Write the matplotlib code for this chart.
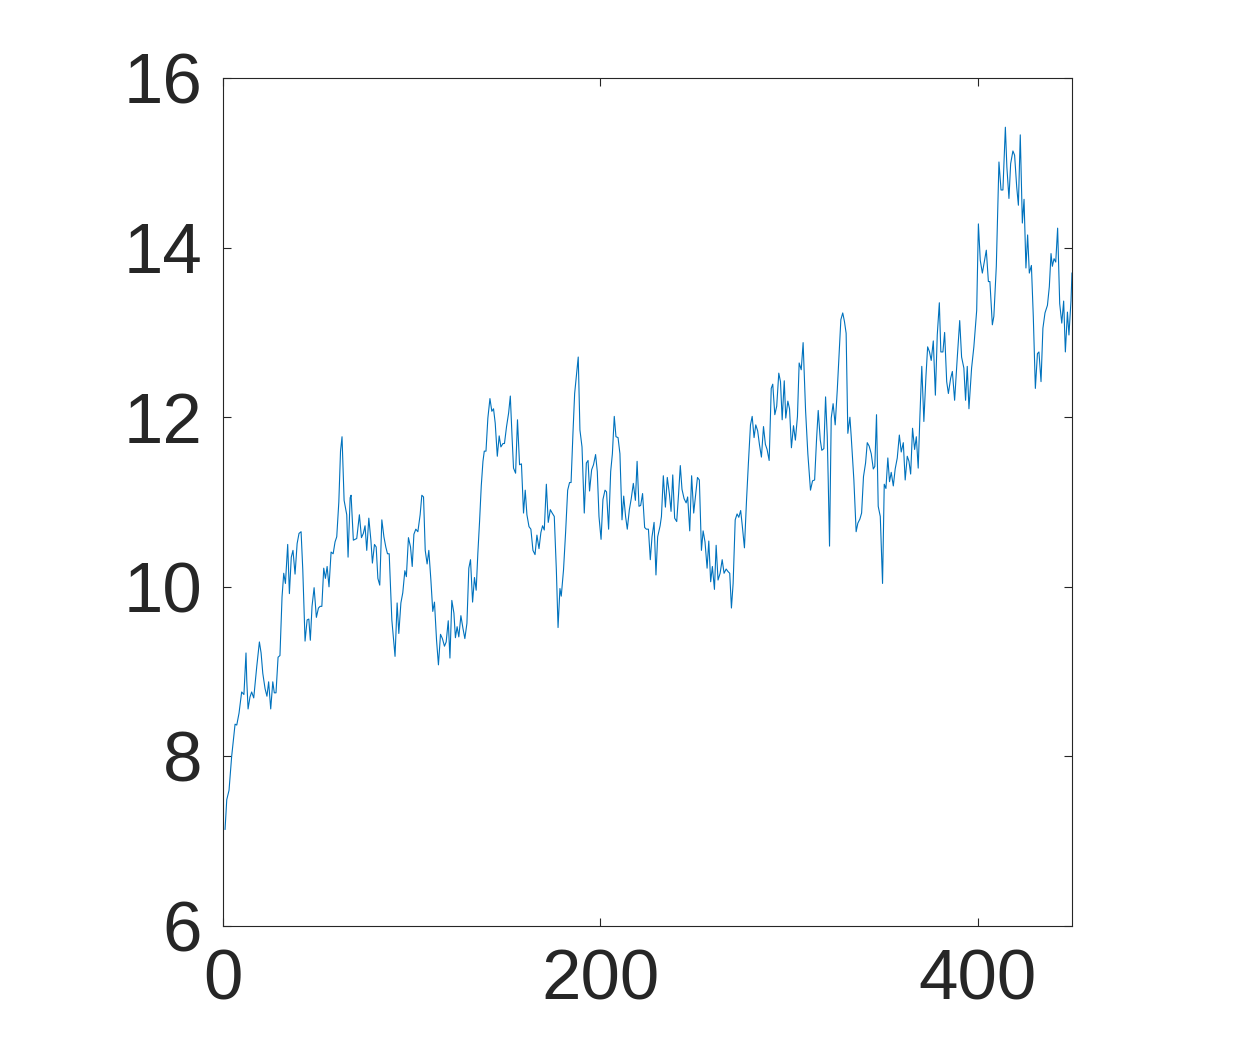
import matplotlib
matplotlib.use("Agg")
import matplotlib.pyplot as plt

x_vals = [
    1.1, 2.0, 3.2, 4.6, 6.4, 7.3, 8.5, 9.9, 11.1, 12.2, 12.6, 13.3, 14.3, 15.2, 16.3, 17.9,
    19.3, 20.2, 21.1, 22.3, 23.3, 24.2, 25.3, 26.4, 27.2, 28.1, 29.2, 30.2, 31.3, 32.2, 33.1,
    34.3, 35.2, 36.2, 37.1, 38.2, 39.3, 40.3, 41.4, 42.3, 43.5, 44.6, 45.5, 46.3, 47.2, 48.3,
    49.5, 50.6, 51.5, 52.4, 53.4, 54.3, 55.2, 56.2, 57.3, 58.4, 59.4, 60.3, 61.4, 62.3, 63.1,
    64.2, 65.6, 66.3, 67.4, 67.9, 69.1, 70.9, 72.3, 73.4, 74.4, 75.3, 76.2, 77.3,
    78.4, 79.2, 80.3, 81.2, 82.1, 83.1, 84.2, 85.3, 86.3, 87.2, 88.1, 89.5, 91.2, 92.3, 93.2,
    94.3, 95.3, 96.4, 97.2, 98.3, 99.4, 100.3, 101.2, 102.2, 103.3, 104.5, 105.4, 106.3,
    107.2, 108.2, 109.1, 110.2, 111.2, 112.1, 113.2, 114.2, 115.3, 116.3, 117.4, 118.3,
    119.4, 120.3, 121.3, 122.4, 123.2, 124.1, 125.0, 126.1, 127.2, 128.2, 129.3, 130.3,
    131.2, 132.3, 133.3, 134.2, 135.1, 136.0, 136.9, 137.8, 138.5, 139.4, 140.4, 141.5,
    142.5, 143.4, 144.3, 145.4, 146.4, 147.3, 148.4, 149.2, 150.3, 151.4, 152.3, 153.2,
    154.0, 155.1, 156.1, 157.2, 158.2, 159.3, 160.2, 161.1, 162.2, 163.2, 164.3, 165.4,
    166.4, 167.5, 168.5, 169.4, 170.3, 171.4, 172.4, 173.5, 174.5, 175.6, 176.7, 177.6,
    178.6, 179.3, 180.5, 181.6, 182.7, 183.7, 184.5, 185.5, 186.4, 187.3, 188.3, 189.2,
    190.3, 191.5, 192.6, 193.5, 194.3, 195.4, 196.4, 197.5, 198.4, 199.3, 200.4, 201.4,
    202.5, 203.3, 204.4, 205.5, 206.4, 207.4, 208.3, 209.4, 210.4, 211.5, 212.4, 213.4,
    214.3, 215.4, 216.4, 217.5, 218.6, 219.5, 220.5, 221.4, 222.4, 223.5, 224.4, 225.5,
    226.5, 227.4, 228.5, 229.5, 230.4, 231.7, 232.4, 233.4, 234.5, 235.5, 236.6, 237.5,
    238.4, 239.4, 240.5, 241.5, 242.4, 243.3, 244.4, 245.5, 246.3, 247.4, 248.4, 249.5,
    250.4, 251.5, 252.5, 253.6, 254.5, 255.5, 256.6, 257.5, 258.5, 259.4, 260.5, 261.4,
    262.4, 263.5, 264.6, 265.6, 266.7, 267.7, 268.6, 269.5, 270.4, 271.5, 272.5, 273.4,
    274.4, 275.3, 276.4, 277.5, 278.5, 279.6, 280.5, 281.5, 282.4, 283.4, 284.4, 285.4,
    286.5, 287.5, 288.4, 289.5, 290.6, 291.4, 292.5, 293.5, 294.6, 295.5, 296.4, 297.5,
    298.3, 299.4, 300.3, 301.3, 302.4, 303.4, 304.5, 305.4, 306.5, 307.5, 308.8, 310.0,
    311.4, 312.5, 313.6, 314.6, 315.5, 316.6, 317.4, 318.5, 319.4, 320.3, 320.8, 321.5,
    322.4, 323.4, 324.5, 325.6, 326.6, 327.5, 328.5, 329.4, 330.3, 331.2, 332.3, 333.0,
    334.4, 335.6, 336.5, 337.6, 338.5, 339.5, 340.6, 341.5, 342.5, 343.6, 344.7, 345.5,
    346.4, 347.3, 348.4, 349.6, 350.5, 351.4, 352.4, 353.3, 354.2, 355.3, 356.3, 357.4,
    358.5, 359.5, 360.6, 361.6, 362.7, 363.6, 364.5, 365.5, 366.6, 367.5, 368.5, 369.4,
    370.4, 371.5, 372.6, 373.5, 374.5, 375.4, 376.5, 377.6, 378.6, 379.7, 380.5, 381.6,
    382.5, 383.6, 384.5, 385.7, 386.6, 387.8, 389.2, 390.5, 391.5, 392.7, 393.6, 394.5,
    395.4, 396.8, 398.0, 399.5, 400.4, 401.4, 402.5, 403.5, 404.6, 405.7, 406.5, 407.8,
    408.6, 409.9, 411.3, 412.4, 413.4, 414.7, 415.5, 416.6, 417.5, 418.7, 419.6, 420.7,
    421.6, 422.6, 423.7, 424.6, 425.6, 426.5, 427.4, 428.5, 429.5, 430.6, 431.7, 432.5,
    433.6, 434.6, 435.7, 437.0, 438.0, 438.9, 439.6, 440.5, 441.4, 442.4, 443.5, 444.6,
    445.6, 446.5, 447.6, 448.4, 449.5, 450.0,
]

y_vals = [
    7.14, 7.49, 7.60, 8.00, 8.38, 8.37, 8.51, 8.76, 8.73, 9.22, 8.90, 8.56, 8.70, 8.76, 8.69, 9.06,
    9.35, 9.22, 8.98, 8.80, 8.71, 8.88, 8.56, 8.88, 8.75, 8.75, 9.17, 9.19, 9.88, 10.16, 10.04,
    10.50, 9.92, 10.35, 10.43, 10.15, 10.51, 10.63, 10.65, 10.20, 9.36, 9.61, 9.62, 9.37, 9.77, 9.99,
    9.64, 9.75, 9.77, 9.77, 10.22, 10.10, 10.24, 10.00, 10.41, 10.39, 10.53, 10.59, 11.00, 11.60, 11.77,
    11.02, 10.85, 10.35, 11.05, 11.08, 10.55, 10.57, 10.85, 10.58, 10.63, 10.72, 10.43, 10.81,
    10.55, 10.28, 10.50, 10.47, 10.10, 10.02, 10.79, 10.59, 10.47, 10.39, 10.39, 9.61, 9.18, 9.81, 9.45,
    9.81, 9.93, 10.19, 10.12, 10.58, 10.47, 10.24, 10.62, 10.68, 10.65, 10.85, 11.08, 11.06,
    10.43, 10.27, 10.43, 10.08, 9.71, 9.82, 9.37, 9.08, 9.44, 9.39, 9.30, 9.35,
    9.60, 9.16, 9.84, 9.69, 9.40, 9.53, 9.41, 9.66, 9.51, 9.39, 9.57, 10.22,
    10.32, 9.82, 10.11, 9.96, 10.40, 10.77, 11.19, 11.48, 11.60, 11.60, 11.99, 12.22,
    12.07, 12.10, 11.93, 11.54, 11.78, 11.65, 11.69, 11.69, 11.89, 12.05, 12.25, 11.78,
    11.40, 11.34, 11.97, 11.44, 11.45, 10.87, 11.14, 10.85, 10.71, 10.68, 10.43, 10.38,
    10.61, 10.45, 10.64, 10.72, 10.67, 11.21, 10.76, 10.91, 10.87, 10.83, 10.20, 9.52,
    9.98, 9.89, 10.20, 10.64, 11.14, 11.23, 11.23, 11.81, 12.28, 12.48, 12.71, 11.85,
    11.65, 10.87, 11.46, 11.49, 11.13, 11.38, 11.44, 11.56, 11.36, 10.83, 10.56, 11.03,
    11.14, 11.12, 10.68, 11.36, 11.57, 12.01, 11.77, 11.76, 11.57, 10.79, 11.07, 10.83,
    10.68, 10.91, 11.04, 11.22, 11.02, 11.48, 10.95, 10.96, 11.10, 10.70, 10.68, 10.68,
    10.32, 10.59, 10.76, 10.14, 10.59, 10.72, 10.83, 11.31, 10.94, 11.29, 11.10, 10.89,
    11.32, 10.81, 10.77, 11.10, 11.43, 11.15, 11.04, 10.99, 11.06, 10.66, 11.31, 10.87,
    11.06, 11.29, 11.26, 10.43, 10.66, 10.53, 10.22, 10.54, 10.06, 10.24, 9.97, 10.49,
    10.08, 10.16, 10.32, 10.16, 10.21, 10.18, 10.16, 9.75, 10.04, 10.79, 10.86, 10.82,
    10.90, 10.71, 10.46, 11.02, 11.46, 11.91, 12.01, 11.76, 11.91, 11.84, 11.67, 11.53,
    11.89, 11.68, 11.62, 11.49, 12.34, 12.39, 12.03, 12.13, 12.52, 12.42, 11.97, 12.43,
    11.99, 12.19, 12.10, 11.64, 11.90, 11.73, 12.01, 12.64, 12.56, 12.88, 12.08, 11.57,
    11.14, 11.25, 11.26, 11.73, 12.08, 11.73, 11.61, 11.63, 12.24, 11.77, 11.26, 10.48,
    11.99, 12.16, 11.91, 12.32, 12.77, 13.15, 13.23, 13.13, 12.99, 11.81, 12.00, 11.77,
    11.26, 10.65, 10.75, 10.80, 10.87, 11.30, 11.46, 11.70, 11.66, 11.57, 11.39, 11.42,
    12.03, 10.95, 10.83, 10.04, 11.21, 11.16, 11.52, 11.24, 11.35, 11.19, 11.39, 11.52,
    11.79, 11.59, 11.70, 11.26, 11.54, 11.48, 11.33, 11.87, 11.62, 11.77, 11.40, 12.01,
    12.60, 11.95, 12.48, 12.83, 12.77, 12.67, 12.90, 12.26, 12.97, 13.35, 12.77, 12.77,
    13.00, 12.42, 12.28, 12.46, 12.54, 12.20, 12.70, 13.14, 12.71, 12.58, 12.20, 12.60,
    12.10, 12.58, 12.83, 13.26, 14.28, 13.85, 13.70, 13.83, 13.97, 13.60, 13.60, 13.09,
    13.19, 13.78, 15.01, 14.68, 14.68, 15.42, 14.95, 14.58, 14.99, 15.14, 15.09, 14.72,
    14.50, 15.33, 14.29, 14.57, 13.76, 14.15, 13.70, 13.79, 13.19, 12.34, 12.75, 12.77,
    12.42, 13.05, 13.23, 13.32, 13.54, 13.93, 13.78, 13.87, 13.83, 14.23, 13.34, 13.11,
    13.37, 12.77, 13.24, 12.97, 13.38, 13.70,
]

x_ticks = [0, 200, 400]
y_ticks = [6, 8, 10, 12, 14, 16]

plt.rcParams['font.family'] = ['Liberation Sans', 'DejaVu Sans']

fig = plt.figure(figsize=(12.52, 10.42), dpi=100)
ax = fig.add_axes([0.1781, 0.1113, 0.6781, 0.8138])
ax.plot(x_vals, y_vals, color='#0072BD', linewidth=0.8)
ax.set_xlim(0, 450)
ax.set_ylim(6, 16)
ax.set_xticks(x_ticks)
ax.set_yticks(y_ticks)
axcol = '#262626'
for s in ax.spines.values():
    s.set_color(axcol)
    s.set_linewidth(0.8)
ax.tick_params(direction='in', length=6, width=0.8, color=axcol, labelcolor=axcol,
               labelsize=51, top=True, right=True)
ax.tick_params(axis='x', pad=16)
ax.tick_params(axis='y', pad=15)
fig.savefig('out.png', dpi=100, facecolor='white')
